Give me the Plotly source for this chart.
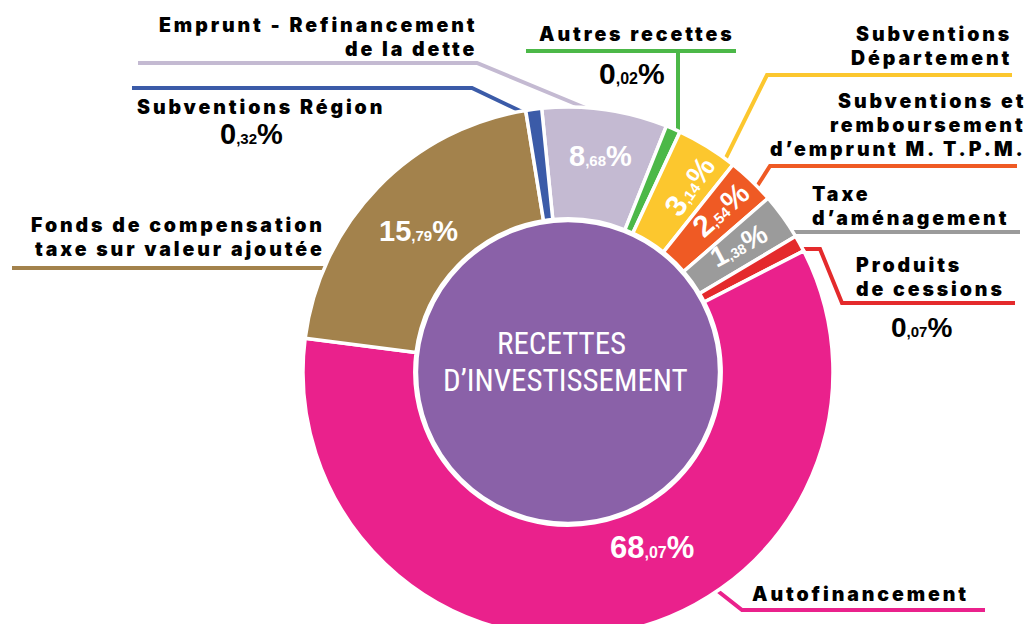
import plotly.graph_objects as go

W, H = 1028, 650   # only the top 624 px are shown; the ring runs off the bottom edge as in the reference

# ---- data (slices listed clockwise, starting just left of 12 o'clock) ----
categories = [
    "Emprunt - Refinancement de la dette",
    "Autres recettes",
    "Subventions Département",
    "Subventions et remboursement d’emprunt M. T.P.M.",
    "Taxe d’aménagement",
    "Produits de cessions",
    "Autofinancement",
    "Fonds de compensation taxe sur valeur ajoutée",
    "Subventions Région",
]
percent_labels = ["8,68", "0,02", "3,14", "2,54", "1,38", "0,07", "68,07", "15,79", "0,32"]
# angular share (% of the circle) of each slice as drawn in the reference (graphic is not to scale)
drawn_share = [7.64, 0.89, 3.75, 2.92, 2.83, 1.00, 59.58, 20.42, 0.97]
colors = ["#c4bad2", "#4cb848", "#fcc72e", "#ef5a24", "#9b9b9b",
          "#e42a2c", "#ea218c", "#a3824c", "#3b5ba8"]
center_title = ["RECETTES", "D’INVESTISSEMENT"]

# ---- geometry (pixels from top-left) ----
CX, CY, R = 568, 372, 265
R_IN = 151


def px(x):
    return x / W


def py(y):
    return 1 - y / H


fig = go.Figure()
fig.add_trace(go.Pie(
    labels=categories, values=drawn_share, sort=False, direction="clockwise",
    rotation=-5.7, hole=0.578,
    marker=dict(colors=colors, line=dict(color="white", width=3.5)),
    textinfo="none", hoverinfo="label", showlegend=False,
    domain=dict(x=[px(CX - R), px(CX + R)], y=[py(CY + R), py(CY - R)]),
))
fig.add_trace(go.Pie(
    labels=[" ".join(center_title)], values=[1], sort=False,
    marker=dict(colors=["#8a61a8"], line=dict(color="white", width=2.5)),
    textinfo="none", hoverinfo="skip", showlegend=False,
    domain=dict(x=[px(CX - R_IN), px(CX + R_IN)], y=[py(CY + R_IN), py(CY - R_IN)]),
))

LABEL_FONT = dict(family="Inter, DejaVu Sans, sans-serif", size=19.5, color="black", weight=900)
PCT_FAMILY = "Liberation Sans, Arial, sans-serif"

annotations = []


def text(x, y, s, anchor="center", font=None, angle=0):
    annotations.append(dict(
        x=px(x), y=py(y), xref="paper", yref="paper", text=s, showarrow=False,
        xanchor=anchor, yanchor="middle", font=font or LABEL_FONT, textangle=angle,
        borderpad=0,
    ))


def pct_html(s, small):
    ent, dec = s.split(",")
    return f"{ent}<span style='font-size:{small}px'>,{dec}</span>%"


def spaced(s):
    return f"<span style='letter-spacing:2.9px'>{s}</span>"


# category labels (one annotation per line)
label_lines = {
    0: (["Emprunt - Refinancement", "de la dette"], 478, [25, 49], "right"),
    1: (["Autres recettes"], 637, [34], "center"),
    2: (["Subventions", "Département"], 1013, [34, 58], "right"),
    3: (["Subventions et", "remboursement", "d’emprunt M. T.P.M."], 1027, [101, 125, 149], "right"),
    4: (["Taxe", "d’aménagement"], 811, [194, 218], "left"),
    5: (["Produits", "de cessions"], 855, [265, 289], "left"),
    6: (["Autofinancement"], 751, [594], "left"),
    7: (["Fonds de compensation", "taxe sur valeur ajoutée"], 326, [225, 249], "right"),
    8: (["Subventions Région"], 261, [107], "center"),
}
for i, (lines, x, ys, anchor) in label_lines.items():
    for ln, y in zip(lines, ys):
        text(x, y, spaced(ln), anchor=anchor)

# percentages inside slices (white) and outside (black)
pct_pos = {
    0: (600, 156, 29, 15, "white", 0),
    1: (632, 73, 30, 16, "black", 0),
    2: (689, 186, 30, 15, "white", -55),
    3: (721, 210, 30, 15, "white", -42),
    4: (739, 246, 28, 14, "white", -28),
    5: (921, 327, 28, 15, "black", 0),
    6: (652, 547, 31, 16, "white", 0),
    7: (418, 231, 29, 15, "white", 0),
    8: (251, 134, 29, 15, "black", 0),
}
for i, (x, y, big, small, col, ang) in pct_pos.items():
    text(x, y, pct_html(percent_labels[i], small),
         font=dict(family=PCT_FAMILY, size=big, color=col, weight="bold"), angle=ang)

# centre title
for ln, y, dx in zip(center_title, [343, 380], [-7, -3]):
    text(CX + dx, y, ln, font=dict(family="Liberation Sans Narrow, Roboto Condensed, DejaVu Sans Condensed, Roboto, sans-serif",
                                 size=31, color="white"))

# leader lines (pixel paths, drawn under the pie)
leaders = [
    (colors[0], [(138, 63), (477, 63), (600, 114)]),
    (colors[8], [(132, 88), (472, 88), (535, 118)]),
    (colors[1], [(526, 51), (736, 51)]),
    (colors[1], [(678, 51), (678, 150)]),
    (colors[2], [(1012, 75), (767, 75), (712, 186)]),
    (colors[3], [(1017, 166), (770, 166), (747, 202)]),
    (colors[4], [(1020, 232), (770, 232)]),
    (colors[5], [(1015, 303), (842, 303), (820, 249), (782, 249)]),
    (colors[6], [(985, 610), (742, 610), (700, 577)]),
    (colors[7], [(12, 268), (345, 268)]),
]
shapes = []
for col, pts in leaders:
    path = "M " + " L ".join(f"{px(x):.5f},{py(y):.5f}" for x, y in pts)
    shapes.append(dict(type="path", path=path, xref="paper", yref="paper",
                       line=dict(color=col, width=4), layer="below"))

fig.update_layout(
    width=W, height=H, margin=dict(l=0, r=0, t=0, b=0),
    paper_bgcolor="white", plot_bgcolor="white",
    annotations=annotations, shapes=shapes, showlegend=False,
)
fig.write_html(
    "out.html",
    config={"displayModeBar": False},
    post_script="document.body.style.margin='0px';document.body.style.overflow='hidden';",
)
